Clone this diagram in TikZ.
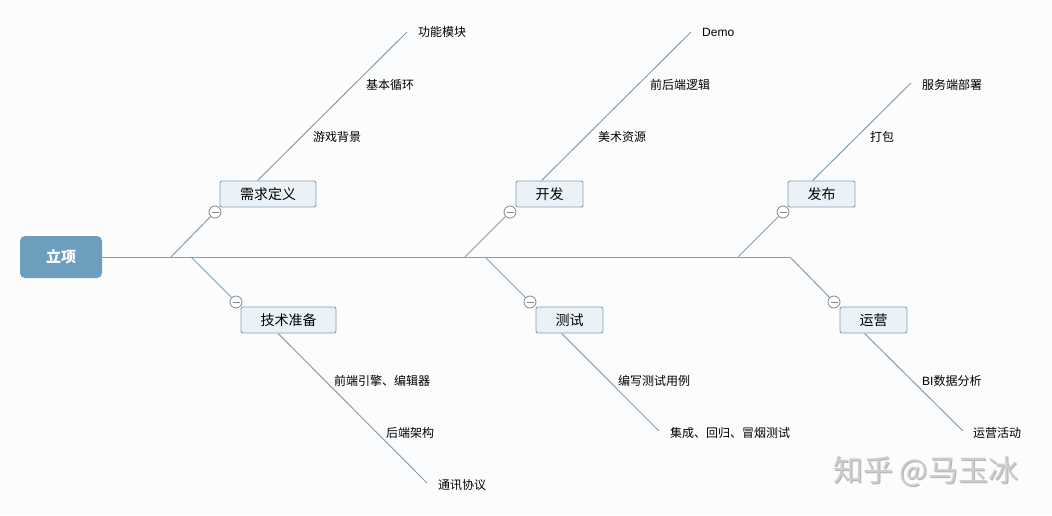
\documentclass[tikz,border=0pt]{standalone}
\usepackage{fontspec}
\setmainfont{Noto Sans CJK SC}
\newfontfamily\latinf{Liberation Sans}
\definecolor{linec}{RGB}{128,160,184}
\definecolor{boxfill}{RGB}{234,242,248}
\definecolor{boxdraw}{RGB}{132,160,184}
\definecolor{rootfill}{RGB}{110,158,190}
\definecolor{bgc}{RGB}{252,252,252}
\definecolor{circd}{RGB}{135,135,135}
\definecolor{wmark}{RGB}{205,205,205}
\definecolor{wshadow}{RGB}{180,180,180}
\begin{document}
\begin{tikzpicture}[x=1pt,y=-1pt,
  rootbox/.style={draw=none,fill=rootfill,rounded corners=5pt,minimum width=82pt,minimum height=42pt,text=white,font=\fontsize{15}{15}\selectfont\bfseries,inner sep=0pt},
  topic/.style={draw=boxdraw,fill=boxfill,rounded corners=2pt,minimum height=26pt,inner sep=0pt,line width=0.9pt,font=\fontsize{14}{14}\selectfont},
  knob/.style={circle,draw=circd,fill=white,minimum size=12pt,inner sep=0pt,line width=0.8pt},
  sub/.style={anchor=west,inner sep=0pt,font=\fontsize{12}{12}\selectfont},
  conn/.style={draw=linec,line width=1pt}
]
\useasboundingbox[fill=bgc] (0,0) rectangle (1052,515);

% root
\node[rootbox] (root) at (61,257) {立项};

% spine
\coordinate (spEnd) at (790,257);
\coordinate (u1) at (171,257);
\coordinate (u2) at (465,257);
\coordinate (u3) at (738,257);
\coordinate (d1) at (191,257);
\coordinate (d2) at (485,257);
\draw[conn] (root.east) -- (spEnd);

% topic boxes
\node[topic,minimum width=96pt] (b1) at (268,194) {需求定义};
\node[topic,minimum width=95pt] (b2) at (288.5,320) {技术准备};
\node[topic,minimum width=67pt] (b3) at (549.5,194) {开发};
\node[topic,minimum width=67pt] (b4) at (569.5,320) {测试};
\node[topic,minimum width=67pt] (b5) at (821.5,194) {发布};
\node[topic,minimum width=67pt] (b6) at (873.5,320) {运营};

% knobs
\node[knob] (k1) at (215,212) {};
\node[knob] (k2) at (236,302) {};
\node[knob] (k3) at (510,212) {};
\node[knob] (k4) at (530,302) {};
\node[knob] (k5) at (783,212) {};
\node[knob] (k6) at (834,302) {};

% branches from spine
\draw[conn] (u1) -- (k1);
\draw[conn] (d1) -- (k2);
\draw[conn] (u2) -- (k3);
\draw[conn] (d2) -- (k4);
\draw[conn] (u3) -- (k5);
\draw[conn] (spEnd) -- (k6);

% minus signs
\foreach \k in {k1,k2,k3,k4,k5,k6}{
  \draw[circd,line width=0.8pt] ([xshift=-3.5pt]\k.center) -- ([xshift=3.5pt]\k.center);
}

% sub-branch lines
\coordinate (e1) at (407,32);
\coordinate (e2) at (427,483);
\coordinate (e3) at (691,32);
\coordinate (e4) at (659,431);
\coordinate (e5) at (911,83);
\coordinate (e6) at (963,431);
\draw[conn] ([xshift=38pt]b1.north west) -- (e1);
\draw[conn] ([xshift=37.5pt]b2.south west) -- (e2);
\draw[conn] ([xshift=26pt]b3.north west) -- (e3);
\draw[conn] ([xshift=26pt]b4.south west) -- (e4);
\draw[conn] ([xshift=25pt]b5.north west) -- (e5);
\draw[conn] ([xshift=25pt]b6.south west) -- (e6);

% labels
\node[sub] (l11) at (418,32) {功能模块};
\node[sub] (l12) at (366,85) {基本循环};
\node[sub] (l13) at (313,137) {游戏背景};

\node[sub] (l21) at (334,381) {前端引擎、编辑器};
\node[sub] (l22) at (386,433) {后端架构};
\node[sub] (l23) at (438,485) {通讯协议};

\node[sub] (l31) at (702,32) {\latinf Demo};
\node[sub] (l32) at (650,85) {前后端逻辑};
\node[sub] (l33) at (598,137) {美术资源};

\node[sub] (l41) at (618,381) {编写测试用例};
\node[sub] (l42) at (670,433) {集成、回归、冒烟测试};

\node[sub] (l51) at (922,85) {服务端部署};
\node[sub] (l52) at (870,137) {打包};

\node[sub] (l61) at (922,381) {{\latinf BI}数据分析};
\node[sub] (l62) at (973,433) {运营活动};

% watermark
\node[anchor=west,inner sep=0pt,text=wshadow,font=\fontsize{30}{30}\selectfont] (wms) at (834,472) {知乎 @马玉冰};
\node[anchor=west,inner sep=0pt,text=wmark,font=\fontsize{30}{30}\selectfont] (wm) at (833,471) {知乎 @马玉冰};
\end{tikzpicture}
\end{document}
